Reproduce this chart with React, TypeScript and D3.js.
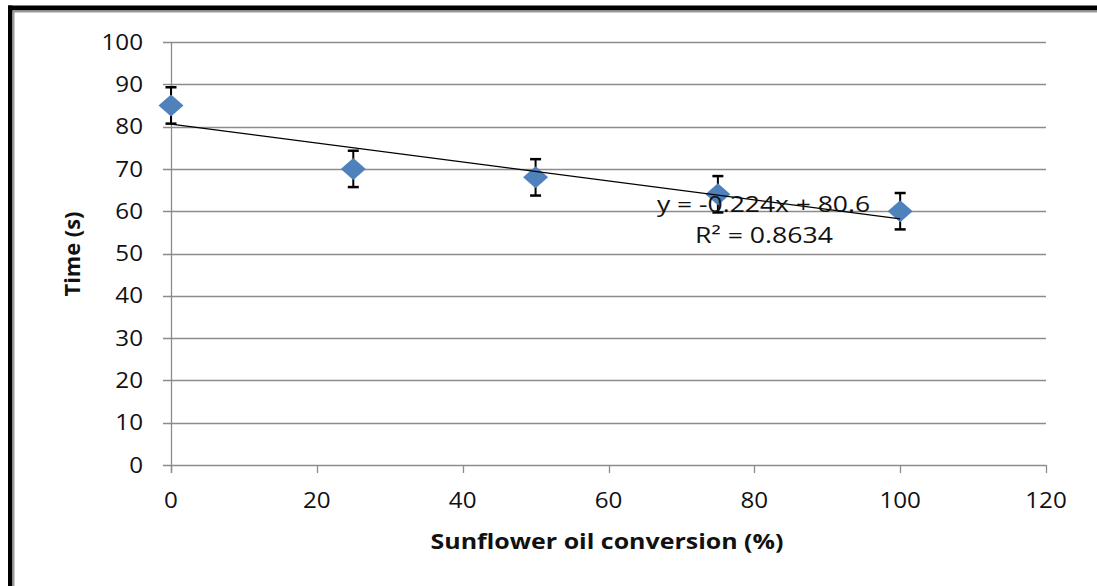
import React from "react";
import * as d3 from "d3";

// Sunflower oil conversion (%) vs. time (s), mean ± error
const conversion = [0, 25, 50, 75, 100];
const timeSec = [85, 70, 68, 64, 60];
const errorSec = [4.3, 4.3, 4.3, 4.3, 4.3];

const yTicks = [0, 10, 20, 30, 40, 50, 60, 70, 80, 90, 100];
const xTicks = [0, 20, 40, 60, 80, 100, 120];

// Linear trendline as reported on the chart
const trendSlope = -0.224;
const trendIntercept = 80.6;
const trendEquation = "y = -0.224x + 80.6";
const trendR2 = "0.8634";

const W = 1097;
const H = 586;
const FONT = "'Open Sans', 'Liberation Sans', sans-serif";

export default function App() {
  const x = d3.scaleLinear().domain([0, 120]).range([171, 1046]);
  const y = d3.scaleLinear().domain([0, 100]).range([465, 42]);

  const gridColor = "#8c8c8c";
  const mw = 12.5;
  const mh = 11;
  const diamondPath = `M0,${-mh}L${mw},0L0,${mh}L${-mw},0Z`;

  const trendX = d3.extent(conversion) as [number, number];
  const trendLine = d3.line<number>()
    .x((d) => x(d))
    .y((d) => y(trendSlope * d + trendIntercept));

  const capHalf = 5.5;
  const textColor = "#111";

  return (
    <svg
      width={W}
      height={H}
      style={{ position: "fixed", left: 0, top: 0, background: "#fff" }}
      fontFamily={FONT}
    >
      <rect x={0} y={0} width={W} height={H} fill="#fff" />
      {/* frame */}
      <rect x={8} y={5.5} width={W - 8} height={5} fill="#000" />
      <rect x={12} y={10.5} width={W - 12} height={2} fill="#9a9a9a" />
      <rect x={8} y={5.5} width={4.5} height={H - 5.5} fill="#000" />
      <rect x={12.5} y={10.5} width={2} height={H - 10.5} fill="#9a9a9a" />

      {/* horizontal gridlines with left tick marks */}
      {yTicks.map((t) => (
        <line
          key={"g" + t}
          x1={163}
          x2={x(120)}
          y1={Math.round(y(t)) + 0.5}
          y2={Math.round(y(t)) + 0.5}
          stroke={gridColor}
          strokeWidth={1.3}
        />
      ))}
      {/* y axis line */}
      <line
        x1={x(0) + 0.5}
        x2={x(0) + 0.5}
        y1={y(100)}
        y2={y(0) + 8}
        stroke={gridColor}
        strokeWidth={1.3}
      />
      {/* x tick marks */}
      {xTicks.map((t) => (
        <line
          key={"xt" + t}
          x1={Math.round(x(t)) + 0.5}
          x2={Math.round(x(t)) + 0.5}
          y1={y(0)}
          y2={y(0) + 8}
          stroke={gridColor}
          strokeWidth={1.3}
        />
      ))}

      {/* y tick labels */}
      {yTicks.map((t) => (
        <text
          key={"yl" + t}
          x={143}
          y={y(t)}
          dy="0.35em"
          textAnchor="end"
          fontSize={22}
          fill={textColor}
          transform={`translate(143,0) scale(1.1,1) translate(-143,0)`}
        >
          {t}
        </text>
      ))}
      {/* x tick labels */}
      {xTicks.map((t) => (
        <text
          key={"xl" + t}
          x={x(t)}
          y={500}
          dy="0.35em"
          textAnchor="middle"
          fontSize={22}
          fill={textColor}
          transform={`translate(${x(t)},0) scale(1.1,1) translate(${-x(t)},0)`}
        >
          {t}
        </text>
      ))}

      {/* axis titles */}
      <text
        x={607}
        y={541}
        dy="0.35em"
        textAnchor="middle"
        fontSize={22}
        fontWeight="bold"
        fill={textColor}
        textLength={353}
        lengthAdjust="spacingAndGlyphs"
      >
        Sunflower oil conversion (%)
      </text>
      <text
        transform="translate(72,254) rotate(-90)"
        dy="0.35em"
        textAnchor="middle"
        fontSize={22}
        fontWeight="bold"
        fill={textColor}
        textLength={85}
        lengthAdjust="spacingAndGlyphs"
      >
        Time (s)
      </text>

      {/* error bars */}
      {conversion.map((c, i) => {
        const cx = x(c);
        const top = y(timeSec[i] + errorSec[i]);
        const bot = y(timeSec[i] - errorSec[i]);
        return (
          <g key={"e" + i} stroke="#000" strokeWidth={2}>
            <line x1={cx} x2={cx} y1={top} y2={bot} />
            <line x1={cx - capHalf} x2={cx + capHalf} y1={top} y2={top} strokeWidth={2.5} />
            <line x1={cx - capHalf} x2={cx + capHalf} y1={bot} y2={bot} strokeWidth={2.5} />
          </g>
        );
      })}

      {/* markers */}
      {conversion.map((c, i) => (
        <path
          key={"m" + i}
          d={diamondPath}
          transform={`translate(${x(c)},${y(timeSec[i])})`}
          fill="#4f81bd"
        />
      ))}

      {/* trendline */}
      <path
        d={trendLine(trendX) as string}
        fill="none"
        stroke="#000"
        strokeWidth={1.2}
      />

      {/* trendline label */}
      <text
        x={763.5}
        y={212}
        textAnchor="middle"
        fontSize={22}
        fill={textColor}
        textLength={213}
        lengthAdjust="spacingAndGlyphs"
      >
        {trendEquation}
      </text>
      <text
        x={764}
        y={243}
        textAnchor="middle"
        fontSize={22}
        fill={textColor}
        textLength={138}
        lengthAdjust="spacingAndGlyphs"
      >
        {"R² = " + trendR2}
      </text>
    </svg>
  );
}
